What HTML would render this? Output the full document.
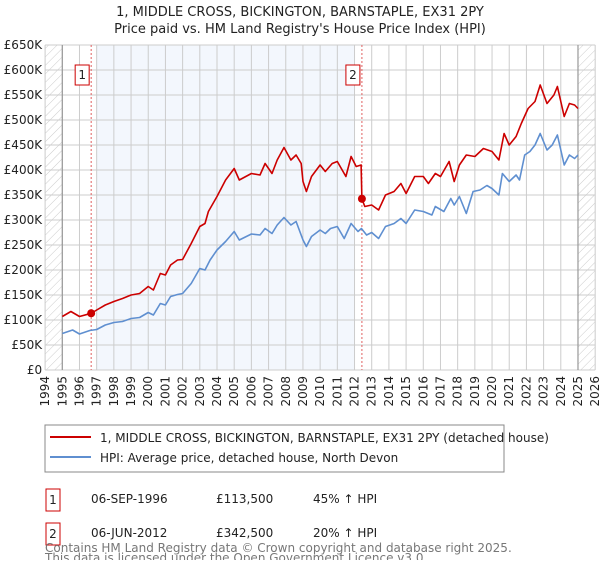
<!DOCTYPE html>
<html><head><meta charset="utf-8"><style>
body{margin:0;background:#fff;font-family:"Liberation Sans","DejaVu Sans",sans-serif;}
svg text{font-family:"DejaVu Sans","Liberation Sans",sans-serif;}
</style></head><body>
<svg id="chart" width="600" height="560" xmlns="http://www.w3.org/2000/svg">
<defs><pattern id="hatch" width="6" height="6" patternUnits="userSpaceOnUse" patternTransform="rotate(45)"><line x1="0" y1="0" x2="0" y2="6" stroke="#ccc" stroke-width="1"/></pattern></defs>
<text x="300" y="16" text-anchor="middle" font-size="13" fill="#222">1, MIDDLE CROSS, BICKINGTON, BARNSTAPLE, EX31 2PY</text>
<text x="300" y="33" text-anchor="middle" font-size="13" fill="#222">Price paid vs. HM Land Registry's House Price Index (HPI)</text>
<g id="plot"></g>
<g>
<rect x="45" y="425" width="459" height="47" fill="#fff" stroke="#888"/>
<line x1="50" y1="437" x2="91" y2="437" stroke="#cc0000" stroke-width="2"/>
<text x="100" y="442" font-size="12" fill="#222">1, MIDDLE CROSS, BICKINGTON, BARNSTAPLE, EX31 2PY (detached house)</text>
<line x1="50" y1="457" x2="91" y2="457" stroke="#5f8fd0" stroke-width="2"/>
<text x="100" y="462" font-size="12" fill="#222">HPI: Average price, detached house, North Devon</text>
</g>
<g font-size="12" fill="#222">
<rect x="46" y="489" width="14" height="22" fill="#fff" stroke="#cc0000"/><text x="53" y="504" text-anchor="middle">1</text>
<text x="91" y="503">06-SEP-1996</text><text x="216" y="503">£113,500</text><text x="313" y="503">45% ↑ HPI</text>
<rect x="46" y="523" width="14" height="22" fill="#fff" stroke="#cc0000"/><text x="53" y="538" text-anchor="middle">2</text>
<text x="91" y="537">06-JUN-2012</text><text x="216" y="537">£342,500</text><text x="313" y="537">20% ↑ HPI</text>
</g>
<text x="45" y="552" font-size="12" fill="#777">Contains HM Land Registry data © Crown copyright and database right 2025.</text>
<text x="45" y="562" font-size="12" fill="#777">This data is licensed under the Open Government Licence v3.0.</text>
</svg>
<script>
const yTicks=[0,50,100,150,200,250,300,350,400,450,500,550,600,650];
const yTickLabels=["£0","£50K","£100K","£150K","£200K","£250K","£300K","£350K","£400K","£450K","£500K","£550K","£600K","£650K"];
const xYears=[1994,1995,1996,1997,1998,1999,2000,2001,2002,2003,2004,2005,2006,2007,2008,2009,2010,2011,2012,2013,2014,2015,2016,2017,2018,2019,2020,2021,2022,2023,2024,2025,2026];
const redT=[1995,1995.5,1996,1996.68,1997,1997.5,1998,1998.5,1999,1999.5,2000,2000.3,2000.7,2001,2001.3,2001.7,2002,2002.5,2003,2003.3,2003.5,2004,2004.5,2005,2005.3,2006,2006.5,2006.8,2007.2,2007.5,2007.9,2008.3,2008.6,2008.9,2009,2009.2,2009.5,2010,2010.3,2010.7,2011,2011.5,2011.8,2012.1,2012.38,2012.43,2012.6,2013,2013.4,2013.8,2014.3,2014.7,2015,2015.5,2016,2016.3,2016.7,2017,2017.5,2017.8,2018.1,2018.5,2019,2019.5,2020,2020.4,2020.7,2021,2021.4,2021.7,2022.1,2022.5,2022.8,2023.2,2023.6,2023.8,2024.2,2024.5,2024.8,2025];
const redV=[107,117,107,113.5,120,130,137,143,150,153,167,160,193,190,210,220,221,253,287,293,317,347,380,403,380,393,390,413,393,420,445,420,430,413,377,357,387,410,397,413,417,387,427,407,410,342.5,327,330,320,350,357,373,353,387,387,373,393,387,417,377,410,430,427,443,437,420,473,450,467,493,523,537,570,533,550,567,507,533,530,523];
const blueT=[1995,1995.6,1996,1996.6,1997,1997.5,1998,1998.5,1999,1999.5,2000,2000.3,2000.7,2001,2001.3,2001.7,2002,2002.5,2003,2003.3,2003.6,2004,2004.5,2005,2005.3,2006,2006.5,2006.8,2007.2,2007.5,2007.9,2008.3,2008.6,2009,2009.2,2009.5,2010,2010.3,2010.6,2011,2011.4,2011.8,2012.2,2012.4,2012.7,2013,2013.4,2013.8,2014.3,2014.7,2015,2015.5,2016,2016.5,2016.7,2017.2,2017.6,2017.8,2018.1,2018.5,2018.9,2019.3,2019.7,2020,2020.4,2020.6,2021,2021.4,2021.6,2021.9,2022.2,2022.5,2022.8,2023.2,2023.5,2023.8,2024.2,2024.5,2024.8,2025];
const blueV=[73,80,72,79,81,90,95,97,103,105,115,110,133,130,147,151,153,173,203,200,220,240,257,277,260,272,270,283,273,290,305,290,297,260,247,267,280,273,283,287,263,293,277,283,270,275,263,287,293,303,293,320,317,310,327,317,343,330,347,313,357,360,369,363,350,393,377,390,380,430,437,450,473,440,450,470,410,430,423,430];
const saleT=[1996.68,2012.43];
const saleV=[113.5,342.5];
const saleLabels=["1","2"];

const X0=45.1,XW=17.19,Y0=370,YK=0.5;
const x=t=>X0+(t-1994)*XW;
const y=v=>Y0-v*YK;
const NS="http://www.w3.org/2000/svg";
const g=document.getElementById('plot');
function mk(tag,attrs,parent){const e=document.createElementNS(NS,tag);for(const k in attrs)e.setAttribute(k,attrs[k]);(parent||g).appendChild(e);return e;}

let r=mk('rect',{x:x(1997),y:y(650),width:x(2012)-x(1997),height:y(0)-y(650),fill:'#eef3fc',opacity:0.7});


r=mk('rect',{x:x(1994),y:y(650),width:x(1995)-x(1994),height:y(0)-y(650),fill:'url(#hatch)'});


r=mk('rect',{x:x(2025),y:y(650),width:x(2026)-x(2025),height:y(0)-y(650),fill:'url(#hatch)'});



yTicks.forEach((v,i)=>{
  const l=mk('line',{x1:x(1994),x2:x(2026),y1:y(v),y2:y(v),stroke:'#ccc','stroke-width':1});
  
  
  const t=mk('text',{x:x(1994)-3,y:y(v)+4,'text-anchor':'end','font-size':12,fill:'#222'});
  t.textContent=yTickLabels[i];
  
  
});
xYears.forEach(yr=>{
  const l=mk('line',{x1:x(yr),x2:x(yr),y1:y(650),y2:y(0),stroke:'#ccc','stroke-width':1});
  
  
  const t=mk('text',{x:0,y:0,'text-anchor':'end','font-size':12,fill:'#222',transform:`translate(${x(yr)+4},${y(0)+6}) rotate(-90)`});
  t.textContent=yr;
  
  
});
[1995,2025].forEach(yr=>{
  const l=mk('line',{x1:x(yr),x2:x(yr),y1:y(650),y2:y(0),stroke:'#999','stroke-width':1.2});
  
  
});
saleT.forEach((t,i)=>{
  const l=mk('line',{x1:x(t),x2:x(t),y1:y(650),y2:y(0),stroke:'#e06060','stroke-width':1,'stroke-dasharray':'2,2'});
  
  
  const b=mk('rect',{x:x(t)-16,y:y(610),width:14,height:20,fill:'#fff',stroke:'#cc0000'});
  
  
  const tx=mk('text',{x:x(t)-9,y:y(610)+14,'text-anchor':'middle','font-size':12,fill:'#222'});
  tx.textContent=saleLabels[i];
  
  
});
const pts=(T,V)=>T.map((t,i)=>x(t).toFixed(1)+','+y(V[i]).toFixed(1)).join(' ');
let p=mk('polyline',{points:pts(blueT,blueV),fill:'none',stroke:'#5f8fd0','stroke-width':1.6,'stroke-linejoin':'round'});


p=mk('polyline',{points:pts(redT,redV),fill:'none',stroke:'#cc0000','stroke-width':1.6,'stroke-linejoin':'round'});


saleT.forEach((t,i)=>{
  const c=mk('circle',{cx:x(t),cy:y(saleV[i]),r:4,fill:'#cc0000'});
  
  
});
</script>
</body></html>
